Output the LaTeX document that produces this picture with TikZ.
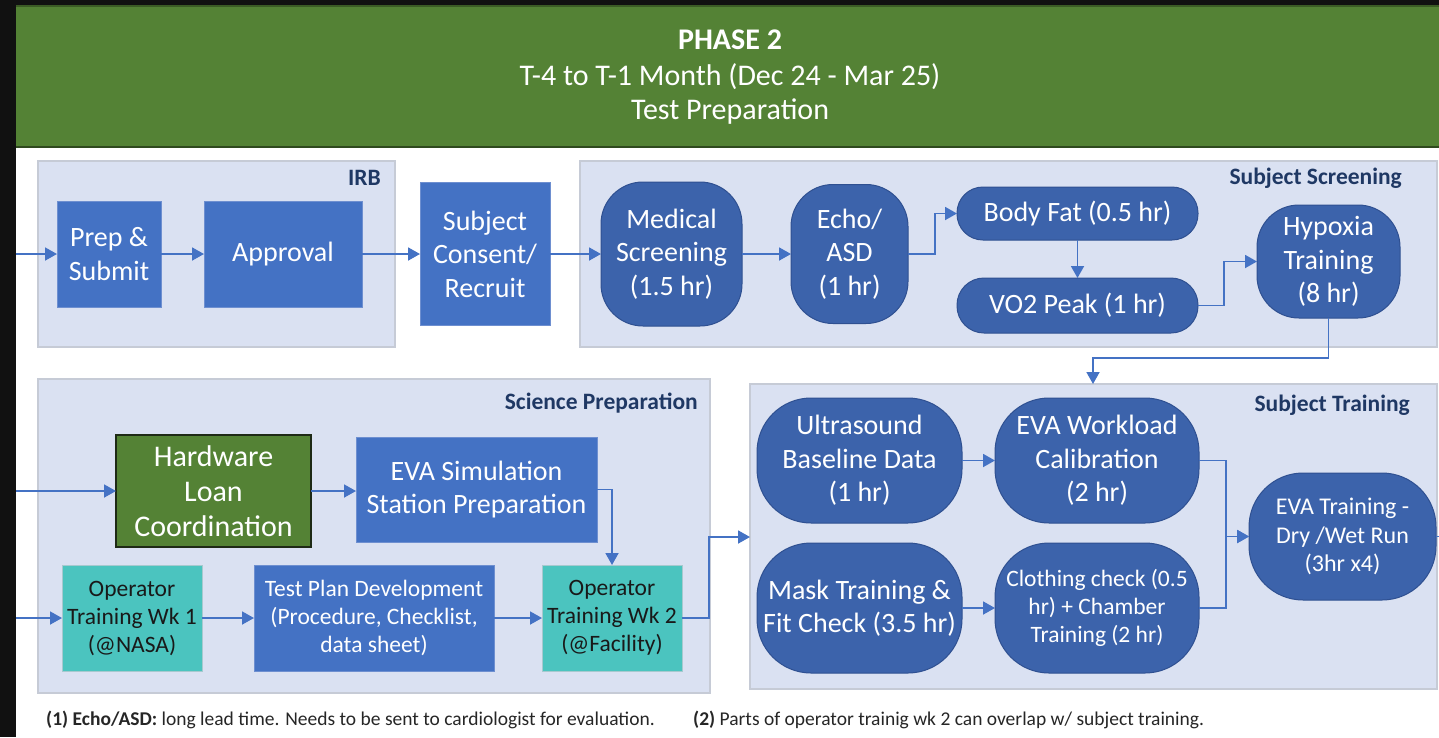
\documentclass[tikz,border=0pt]{standalone}
\usepackage{fontspec}
\setmainfont{Carlito}
\usetikzlibrary{arrows.meta}

\definecolor{hdrgreen}{HTML}{548235}
\definecolor{hdredge}{HTML}{3B5B25}
\definecolor{boxblue}{HTML}{4472C4}
\definecolor{boxedge}{HTML}{6E8FD0}
\definecolor{pillblue}{HTML}{3C63AB}
\definecolor{pilledge}{HTML}{2F5091}
\definecolor{grpfill}{HTML}{DAE1F2}
\definecolor{grpedge}{HTML}{C6CBD6}
\definecolor{navy}{HTML}{1F3864}
\definecolor{teal}{HTML}{4BC4BF}
\definecolor{tealedge}{HTML}{A7C9CF}
\definecolor{hwedge}{HTML}{1E2A16}
\definecolor{arrowblue}{HTML}{4472C4}
\definecolor{notegray}{HTML}{262626}
\definecolor{frame}{HTML}{111111}

\begin{document}
\begin{tikzpicture}[x=1pt,y=-1pt,
  f28/.style={font=\fontsize{28}{33.5}\selectfont},
  f24/.style={font=\fontsize{24}{28.5}\selectfont},
  f23/.style={font=\fontsize{23.5}{28}\selectfont},
  base/.style={inner sep=0pt, outer sep=0pt, align=center, text=white},
  rectbox/.style={base, rectangle, fill=boxblue, draw=boxedge, line width=1pt},
  pill/.style={base, rectangle, fill=pillblue, draw=pilledge, line width=1pt, rounded corners=42pt},
  widepill/.style={pill, rounded corners=54pt},
  tealbox/.style={base, rectangle, fill=teal, draw=tealedge, line width=1pt, text=black!90},
  hwbox/.style={base, rectangle, fill=hdrgreen, draw=hwedge, line width=1.6pt},
  group/.style={fill=grpfill, draw=grpedge, line width=1.5pt},
  grplabel/.style={anchor=east, inner sep=0pt, text=navy, font=\fontsize{23.5}{27}\selectfont\bfseries},
  link/.style={draw=arrowblue, line width=1.8pt},
  arr/.style={link, -{Triangle[width=13pt,length=12pt]}},
  note/.style={anchor=west, inner sep=0pt, text=notegray, font=\fontsize{19.5}{23}\selectfont}
]
\useasboundingbox (0,0) rectangle (1439,737);

% page: dark frame, header band, white sheet
\fill[frame] (0,0) rectangle (1439,737);
\fill[white] (16,148) rectangle (1439,737);
\fill[hdrgreen] (16,5) rectangle (1439,148);
\draw[hdredge, line width=2pt] (16,6) -- (1439,6);
\draw[hdredge!80!black, line width=2pt] (16,147) -- (1439,147);

\node[text=white, font=\fontsize{30}{36}\selectfont\bfseries] (title) at (730,40) {PHASE 2};
\node[text=white, font=\fontsize{30}{36}\selectfont] (period) at (730,77) {T-4 to T-1 Month (Dec 24 - Mar 25)};
\node[text=white, font=\fontsize{30}{36}\selectfont] (stage) at (730,112) {Test Preparation};

% group panels
\draw[group] (38,161) rectangle (395,347);
\draw[group] (580,161) rectangle (1437,347);
\draw[group] (38,379) rectangle (710,693);
\draw[group] (750,384) rectangle (1437,689);
\node[grplabel] (lirb) at (381,178) {IRB};
\node[grplabel] (lss) at (1402,178) {Subject Screening};
\node[grplabel] (lsp) at (698,403) {Science Preparation};
\node[grplabel] (lst) at (1410,405) {Subject Training};

% IRB and recruitment
\node[rectbox, f28, minimum width=104pt, minimum height=106pt] (prep) at (109,254) {Prep \&\\Submit};
\node[rectbox, f28, minimum width=158pt, minimum height=106pt] (appr) at (283,254) {Approval};
\node[rectbox, f28, minimum width=130pt, minimum height=143pt] (cons) at (485,254) {Subject\\Consent/\\Recruit};

% subject screening
\node[pill, f28, minimum width=141pt, minimum height=144pt] (med) at (671.5,254) {Medical\\Screening\\(1.5 hr)};
\node[pill, f28, minimum width=117pt, minimum height=139pt] (echo) at (849.5,254) {Echo/\\ASD\\(1 hr)};
\node[pill, f28, rounded corners=26pt, minimum width=241pt, minimum height=53pt] (bfat) at (1077.5,213.5) {Body Fat (0.5 hr)};
\node[pill, f28, rounded corners=27pt, minimum width=241pt, minimum height=55pt] (vo2) at (1077.5,305.5) {VO2 Peak (1 hr)};
\node[pill, f28, minimum width=143pt, minimum height=113pt] (hyp) at (1328.5,261.5) {Hypoxia\\Training\\(8 hr)};

% science preparation
\node[hwbox, font=\fontsize{30}{35}\selectfont, minimum width=195pt, minimum height=112pt] (hw) at (213.5,491) {Hardware\\Loan\\Coordination};
\node[rectbox, f28, minimum width=241pt, minimum height=105pt] (esim) at (476.5,489.5) {EVA Simulation\\Station Preparation};
\node[tealbox, f23, minimum width=140pt, minimum height=106pt] (wk1) at (132,618) {Operator\\Training Wk 1\\(@NASA)};
\node[rectbox, f23, minimum width=240pt, minimum height=106pt] (tpd) at (374,618) {Test Plan Development\\(Procedure, Checklist,\\data sheet)};
\node[tealbox, f23, minimum width=140pt, minimum height=106pt] (wk2) at (612,618) {Operator\\Training Wk 2\\(@Facility)};

% subject training
\node[widepill, f28, minimum width=205pt, minimum height=125pt] (us) at (859.5,460.5) {Ultrasound\\Baseline Data\\(1 hr)};
\node[widepill, f28, minimum width=205pt, minimum height=130pt] (mask) at (859.5,608) {Mask Training \&\\Fit Check (3.5 hr)};
\node[widepill, f28, minimum width=204pt, minimum height=125pt] (wl) at (1097,460.5) {EVA Workload\\Calibration\\(2 hr)};
\node[widepill, f23, minimum width=204pt, minimum height=130pt] (cloth) at (1097,608) {Clothing check (0.5\\hr) + Chamber\\Training (2 hr)};
\node[widepill, f24, minimum width=187pt, minimum height=127pt] (evat) at (1342.5,536.5) {EVA Training -\\Dry /Wet Run\\(3hr x4)};

% loose ends of connectors
\coordinate (inirb) at (16,254);
\coordinate (inhw) at (16,491);
\coordinate (inwk1) at (16,618);
\coordinate (sttop) at (1093,384);
\coordinate (stleft) at (750,537);
\coordinate (outevat) at (1439,536.5);

% connectors
\draw[arr] (inirb) -- (prep);
\draw[arr] (prep) -- (appr);
\draw[arr] (appr) -- (cons);
\draw[arr] (cons) -- (med);
\draw[arr] (med) -- (echo);
\draw[arr] (echo.east) -- ++(27,0) |- (bfat.west);
\draw[arr] (bfat) -- (vo2);
\draw[arr] (vo2.east) -- ++(26,0) |- (hyp.west);
\draw[arr] (hyp.south) -- ++(0,40) -| (sttop);

\draw[arr] (inhw) -- (hw);
\draw[arr] (hw.east) -- (esim.west |- hw.east);
\draw[arr] (esim.east) -| (wk2.north);
\draw[arr] (inwk1) -- (wk1);
\draw[arr] (wk1) -- (tpd);
\draw[arr] (tpd) -- (wk2);
\draw[arr] (wk2.east) -- ++(27,0) |- (stleft);

\draw[arr] (us) -- (wl);
\draw[arr] (mask) -- (cloth);
\draw[arr] (wl.east) -- ++(27,0) |- (evat.west);
\draw[arr] (cloth.east) -- ++(27,0) |- (evat.west);
\draw[link] (evat.east) -- (outevat);

% footnotes
\node[note] (n1) at (46,720) {\textbf{(1) Echo/ASD:} long lead time. Needs to be sent to cardiologist for evaluation.};
\node[note] (n2) at (693,720) {\textbf{(2)} Parts of operator trainig wk 2 can overlap w/ subject training.};
\end{tikzpicture}
\end{document}
